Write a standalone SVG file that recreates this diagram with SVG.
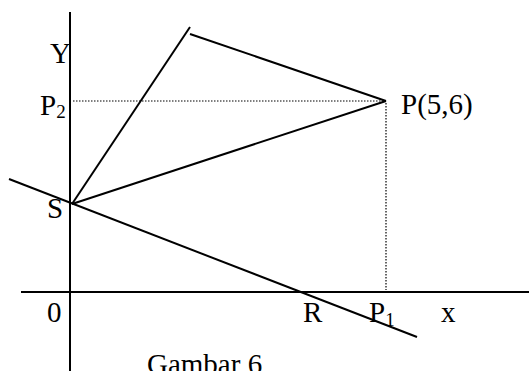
<svg xmlns="http://www.w3.org/2000/svg" width="529" height="371" viewBox="0 0 529 371">
<style>
.ln{stroke:#000;stroke-width:2;fill:none}
.dt{stroke:#000;stroke-width:1.2;stroke-dasharray:1.5 1.5;fill:none}
text{font-family:"Liberation Serif","Times New Roman",serif;font-size:29px;fill:#000}
.sub{font-size:19px}
</style>
<rect width="529" height="371" fill="#fff"/>
<g id="connectors">
<line class="ln" x1="70" y1="12" x2="70" y2="371"/>
<line class="ln" x1="21" y1="292" x2="529" y2="292"/>
<line class="dt" x1="73" y1="101" x2="385" y2="101"/>
<line class="dt" x1="386" y1="103" x2="386" y2="290"/>
<line class="ln" x1="72" y1="204" x2="190" y2="27"/>
<line class="ln" x1="190" y1="34" x2="386" y2="101"/>
<line class="ln" x1="72" y1="204" x2="386" y2="101"/>
<line class="ln" x1="9" y1="179" x2="417" y2="337"/>
</g>
<g id="label-Y"><text x="50" y="63">Y</text></g>
<g id="label-P2"><text x="40" y="115">P<tspan class="sub" dy="3">2</tspan></text></g>
<g id="node-P"><text x="401" y="114">P(5,6)</text></g>
<g id="node-S"><text x="47" y="218">S</text></g>
<g id="label-0"><text x="47" y="322">0</text></g>
<g id="node-R"><text x="303" y="322">R</text></g>
<g id="label-P1"><text x="369" y="322">P<tspan class="sub" dy="4">1</tspan></text></g>
<g id="label-x"><text x="441" y="322">x</text></g>
<g id="caption"><text x="147" y="374">Gambar 6</text></g>
</svg>
